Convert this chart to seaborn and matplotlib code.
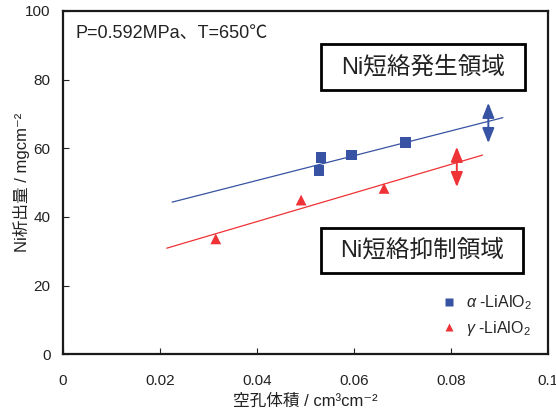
import matplotlib
matplotlib.use("Agg")
import matplotlib.pyplot as plt
import matplotlib.patches as mpatches
import pandas as pd
import seaborn as sns

# measured points
alpha_x = [0.0532, 0.0528, 0.0595, 0.0706]
alpha_y = [57.2, 53.4, 58.0, 61.7]
gamma_x = [0.0315, 0.0491, 0.0662]
gamma_y = [33.6, 44.9, 48.3]

# trend lines (end points)
alpha_fit_x = [0.0225, 0.0907]
alpha_fit_y = [44.3, 68.9]
gamma_fit_x = [0.0214, 0.0865]
gamma_fit_y = [30.9, 58.0]

# double arrows (x, y_low, y_high)
alpha_arrow = [0.0877, 61.5, 73.2]
gamma_arrow = [0.0812, 48.7, 60.4]

legend_labels = [r"$\alpha$ -LiAlO$_2$", r"$\gamma$ -LiAlO$_2$"]
region_labels = ["Ni短絡発生領域", "Ni短絡抑制領域"]
BLUE = "#3953a4"
RED = "#ee3236"

sns.set_theme(style="ticks")
plt.rcParams["font.family"] = ["Liberation Sans", "Noto Sans CJK JP", "DejaVu Sans"]
plt.rcParams["mathtext.fontset"] = "custom"
plt.rcParams["mathtext.rm"] = "Liberation Sans"
plt.rcParams["mathtext.it"] = "Liberation Sans:italic"

df_pts = pd.DataFrame({
    "x": alpha_x + gamma_x,
    "y": alpha_y + gamma_y,
    "phase": ["alpha"] * len(alpha_x) + ["gamma"] * len(gamma_x),
})
df_fit = pd.DataFrame({
    "x": alpha_fit_x + gamma_fit_x,
    "y": alpha_fit_y + gamma_fit_y,
    "phase": ["alpha"] * 2 + ["gamma"] * 2,
})

fig = plt.figure(figsize=(5.56, 4.09), dpi=100)
ax = fig.add_axes([0.1133, 0.1337, 0.8723, 0.8399])

sns.lineplot(data=df_fit, x="x", y="y", hue="phase", palette={"alpha": BLUE, "gamma": RED},
             linewidth=0.9, legend=False, ax=ax)
sns.scatterplot(data=df_pts, x="x", y="y", hue="phase", style="phase",
                palette={"alpha": BLUE, "gamma": RED},
                markers={"alpha": "s", "gamma": "^"}, s=60, edgecolor="none",
                ax=ax)

for arr, col in [(alpha_arrow, BLUE), (gamma_arrow, RED)]:
    ax.annotate("", xy=(arr[0], arr[2]), xytext=(arr[0], arr[1]),
                arrowprops=dict(arrowstyle="<|-|>,head_length=0.75,head_width=0.3",
                                color=col, lw=1.4, shrinkA=0, shrinkB=0))

ax.set_xlim(0, 0.1)
ax.set_ylim(0, 100)
ax.set_xticks([0, 0.02, 0.04, 0.06, 0.08, 0.1])
ax.set_xticklabels(["0", "0.02", "0.04", "0.06", "0.08", "0.1"])
ax.set_yticks([0, 20, 40, 60, 80, 100])
ax.tick_params(direction="in", length=4, width=0.8, labelsize=11, colors="#222222")
ax.tick_params(axis="x", pad=14)
ax.tick_params(axis="y", pad=9)
ax.set_xlabel("空孔体積 / cm³cm⁻²", fontsize=12, color="#222222", labelpad=4)
ax.set_ylabel("Ni析出量 / mgcm⁻²", fontsize=12, color="#222222", labelpad=0)
ax.yaxis.set_label_coords(-0.067, 0.5)
for sp in ax.spines.values():
    sp.set_visible(True)
    sp.set_linewidth(1.6)
    sp.set_color("#1a1a1a")

ax.text(0.025, 0.935, "P=0.592MPa、T=650℃", transform=ax.transAxes, fontsize=13,
        va="center", ha="left", color="#222222")

# region boxes (axes fraction) with centred labels
for (x0, y0, x1, y1), label in zip([(0.531, 0.769, 0.953, 0.903),
                                    (0.531, 0.237, 0.949, 0.368)], region_labels):
    ax.add_patch(mpatches.Rectangle((x0, y0), x1 - x0, y1 - y0, transform=ax.transAxes,
                                    facecolor="white", edgecolor="black", linewidth=2,
                                    zorder=4))
    ax.text((x0 + x1) / 2, (y0 + y1) / 2, label, transform=ax.transAxes, fontsize=17,
            ha="center", va="center", color="#222222", zorder=5)

h, l = ax.get_legend_handles_labels()
ax.legend(h, legend_labels, loc="lower right", bbox_to_anchor=(0.99, 0.015),
          frameon=False, fontsize=11.5, handletextpad=0.05, labelspacing=0.45,
          markerscale=0.8, borderaxespad=0.3)

fig.savefig("out.png", dpi=100, facecolor="white")
